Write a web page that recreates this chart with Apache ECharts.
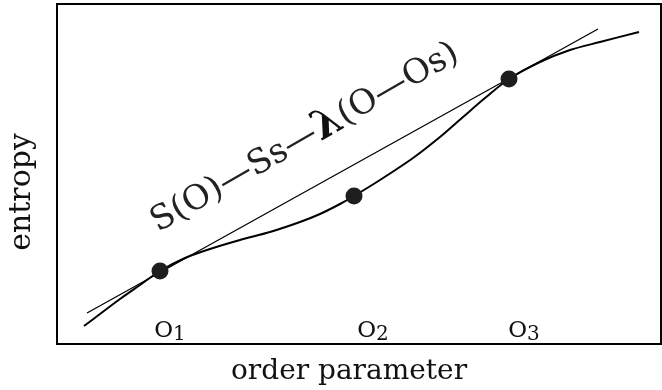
<!DOCTYPE html>
<html>
<head>
<meta charset="utf-8">
<script src="https://cdn.jsdelivr.net/npm/echarts@6/dist/echarts.min.js"></script>
<style>
  html, body { margin: 0; padding: 0; background: #fff; }
  #chart { width: 662px; height: 390px; }
</style>
</head>
<body>
<div id="chart"></div>
<script>
'use strict';
// entropy curve S(O), order parameter on x
const curveX = [2.7, 4.3, 6.3, 8.3, 10.3, 12.8, 15.3, 18.3, 21.3, 24.3, 26.3, 28.3, 29.7, 32.3, 35.6, 38.3, 40.6, 42.8, 45.2, 48.3, 51.3, 54.3, 58.2];
const curveY = [1.8, 3.0, 4.5, 5.9, 7.3, 8.6, 9.5, 10.4, 11.2, 12.2, 13.0, 14.0, 14.8, 16.4, 18.6, 20.7, 22.7, 24.6, 26.5, 28.2, 29.4, 30.2, 31.2];
// common tangent line
const tangentX = [3.0, 54.1];
const tangentY = [3.1, 31.5];
// O1, O2, O3 points
const pointX = [10.3, 29.7, 45.2];
const pointY = [7.3, 14.8, 26.5];
const pointNames = ['1', '2', '3'];
const labelX = [11.3, 31.6, 46.7];
const labelY = [1.3, 1.3, 1.3];

const serif = '"DejaVu Serif", "Liberation Serif", serif';

let chart = echarts.init(document.getElementById('chart'));
chart.setOption({
  animation: false,
  grid: {
    left: 57, right: 1, top: 4, bottom: 46,
    outerBoundsMode: 'none', containLabel: false,
    show: true, borderColor: '#000', borderWidth: 2
  },
  xAxis: {
    type: 'value', min: 0, max: 60.4,
    axisLine: { show: false }, axisTick: { show: false },
    axisLabel: { show: false }, splitLine: { show: false },
    name: 'order parameter', nameLocation: 'middle', nameGap: 14,
    nameTextStyle: { fontFamily: serif, fontSize: 28, color: '#111', verticalAlign: 'top', padding: [0, 20, 0, 0] }
  },
  yAxis: {
    type: 'value', min: 0, max: 34,
    axisLine: { show: false }, axisTick: { show: false },
    axisLabel: { show: false }, splitLine: { show: false },
    name: 'entropy', nameLocation: 'middle', nameGap: 20,
    nameTextStyle: { fontFamily: serif, fontSize: 30, color: '#111', verticalAlign: 'bottom', padding: [0, 36, 0, 0] }
  },
  series: [
    {
      type: 'line', smooth: 0.3, symbol: 'none',
      lineStyle: { color: '#000', width: 2 },
      data: curveX.map((x, i) => [x, curveY[i]])
    },
    {
      type: 'line', symbol: 'none',
      lineStyle: { color: '#000', width: 1.3 },
      data: tangentX.map((x, i) => [x, tangentY[i]])
    },
    {
      type: 'scatter', symbolSize: 17, z: 5,
      itemStyle: { color: '#1e1e1e', opacity: 1 },
      data: pointX.map((x, i) => [x, pointY[i]])
    },
    {
      type: 'scatter', symbolSize: 0,
      itemStyle: { opacity: 1 },
      label: {
        show: true, position: 'inside',
        formatter: p => '{o|O}{s|' + pointNames[p.dataIndex] + '}',
        rich: {
          o: { fontFamily: serif, fontSize: 23, color: '#111' },
          s: { fontFamily: serif, fontSize: 20, color: '#111', padding: [7, 0, 0, 0] }
        }
      },
      data: labelX.map((x, i) => [x, labelY[i]])
    }
  ],
  graphic: [
    {
      type: 'text', x: 305, y: 138, rotation: 0.52,
      style: {
        text: '{a|S(O)—Ss—}{b|λ}{a|(O—Os)}',
        align: 'center', verticalAlign: 'middle',
        rich: {
          a: { fontFamily: serif, fontSize: 34, fill: '#222' },
          b: { fontFamily: serif, fontSize: 41, fontWeight: 'bold', fill: '#111' }
        }
      }
    }
  ]
});
</script>
</body>
</html>
